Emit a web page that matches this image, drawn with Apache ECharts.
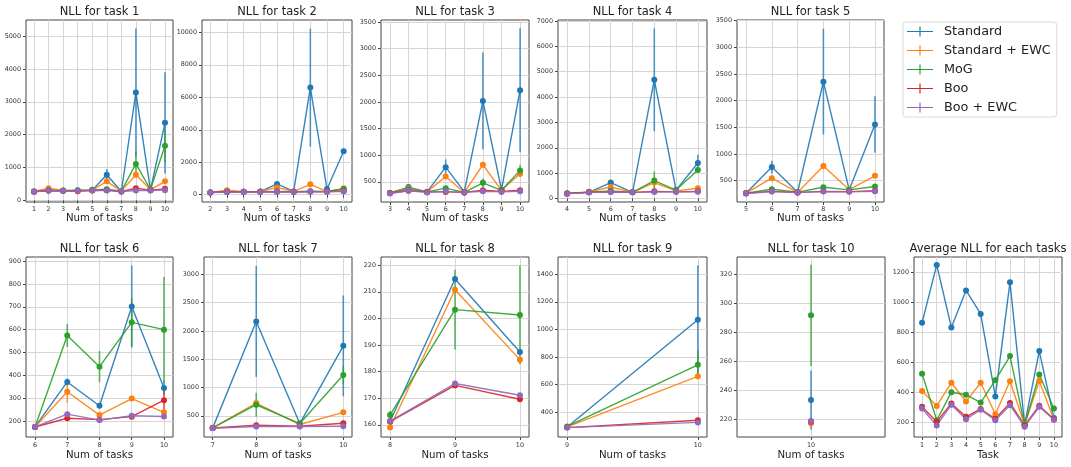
<!DOCTYPE html>
<html>
<head>
<meta charset="utf-8">
<script src="https://cdn.jsdelivr.net/npm/echarts@6/dist/echarts.min.js"></script>
<style>
    html, body { margin: 0; padding: 0; background: #fff; }
    #chart { width: 1071px; height: 467px; }
</style>
</head>
<body>
<div id="chart"></div>
<script>
var methods = ['Standard', 'Standard + EWC', 'MoG', 'Boo', 'Boo + EWC'];
var methodColors = ['#1f77b4', '#ff7f0e', '#2ca02c', '#d62728', '#9467bd'];

// x values (number of tasks seen) for each panel
var xTask1 = [1, 2, 3, 4, 5, 6, 7, 8, 9, 10];
var xTask2 = [2, 3, 4, 5, 6, 7, 8, 9, 10];
var xTask3 = [3, 4, 5, 6, 7, 8, 9, 10];
var xTask4 = [4, 5, 6, 7, 8, 9, 10];
var xTask5 = [5, 6, 7, 8, 9, 10];
var xTask6 = [6, 7, 8, 9, 10];
var xTask7 = [7, 8, 9, 10];
var xTask8 = [8, 9, 10];
var xTask9 = [9, 10];
var xTask10 = [10];
var xAverage = [1, 2, 3, 4, 5, 6, 7, 8, 9, 10];

// mean NLL, one row per method (same order as methods)
var nllTask1 = [
    [270, 300, 290, 300, 310, 780, 270, 3280, 310, 2360],
    [270, 370, 300, 290, 310, 580, 280, 780, 330, 580],
    [270, 300, 300, 310, 320, 340, 280, 1110, 330, 1660],
    [260, 300, 290, 280, 300, 310, 270, 370, 310, 350],
    [260, 300, 290, 290, 300, 300, 270, 300, 300, 310]
];
var nllTask2 = [
    [140, 200, 180, 190, 660, 200, 6600, 350, 2680],
    [130, 270, 180, 200, 450, 200, 640, 200, 390],
    [140, 180, 180, 180, 200, 180, 210, 200, 350],
    [140, 180, 180, 180, 190, 180, 190, 190, 230],
    [130, 170, 170, 170, 180, 170, 180, 180, 200]
];
var nllTask3 = [
    [290, 400, 310, 775, 310, 2020, 350, 2220],
    [290, 380, 310, 600, 300, 820, 340, 650],
    [290, 360, 310, 380, 300, 480, 340, 710],
    [290, 330, 310, 310, 300, 340, 320, 340],
    [280, 330, 300, 320, 300, 320, 310, 320]
];
var nllTask4 = [
    [200, 240, 625, 240, 4680, 330, 1400],
    [200, 260, 450, 240, 625, 300, 400],
    [200, 250, 300, 240, 705, 330, 1120],
    [200, 240, 260, 240, 280, 260, 280],
    [190, 230, 250, 240, 250, 260, 260]
];
var nllTask5 = [
    [264, 754, 283, 2355, 327, 1551],
    [265, 546, 280, 773, 330, 590],
    [265, 340, 285, 377, 327, 390],
    [265, 300, 280, 300, 295, 310],
    [260, 295, 275, 295, 290, 300]
];
var nllTask6 = [
    [174, 371, 267, 701, 345],
    [174, 328, 226, 298, 238],
    [174, 574, 438, 632, 600],
    [174, 212, 206, 219, 291],
    [174, 230, 204, 223, 220]
];
var nllTask7 = [
    [286, 2167, 362, 1735],
    [286, 724, 345, 561],
    [286, 695, 362, 1221],
    [286, 333, 315, 368],
    [280, 310, 310, 315]
];
var nllTask8 = [
    [161.2, 214.8, 187.4],
    [159.0, 210.8, 184.5],
    [163.7, 203.3, 201.3],
    [161.2, 174.8, 169.6],
    [161.4, 175.5, 171.1]
];
var nllTask9 = [
    [293, 1070],
    [293, 660],
    [297, 743],
    [288, 341],
    [288, 326]
];
var nllTask10 = [[233], [217], [291.5], [218], [218.5]];
var nllAverage = [
    [865, 1251, 834, 1081, 924, 374, 1136, 187, 676, 229],
    [410, 310, 465, 340, 465, 255, 475, 185, 477, 220],
    [525, 215, 402, 385, 333, 482, 643, 185, 520, 293],
    [305, 205, 327, 238, 290, 225, 330, 180, 312, 222],
    [293, 180, 318, 222, 285, 215, 315, 172, 305, 218]
];

// half length of the error bars
var errTask1 = [
    [20, 30, 20, 20, 30, 170, 20, 1950, 40, 1540],
    [10, 40, 10, 10, 20, 60, 10, 80, 20, 60],
    [10, 20, 10, 10, 20, 40, 10, 380, 30, 500],
    [10, 20, 10, 10, 10, 20, 10, 40, 10, 30],
    [10, 10, 10, 10, 10, 10, 10, 20, 10, 20]
];
var errTask2 = [
    [10, 30, 20, 20, 80, 20, 3630, 40, 150],
    [10, 40, 10, 20, 60, 20, 80, 20, 50],
    [10, 10, 10, 10, 20, 10, 20, 10, 60],
    [10, 10, 10, 10, 10, 10, 10, 10, 20],
    [10, 10, 10, 10, 10, 10, 10, 10, 10]
];
var errTask3 = [
    [10, 30, 10, 145, 10, 910, 20, 1165],
    [10, 30, 10, 40, 10, 50, 20, 60],
    [10, 20, 10, 30, 10, 80, 20, 110],
    [10, 10, 10, 10, 10, 20, 10, 20],
    [10, 10, 10, 10, 10, 10, 10, 10]
];
var errTask4 = [
    [10, 20, 60, 10, 2030, 20, 330],
    [10, 20, 40, 10, 80, 20, 60],
    [10, 20, 20, 10, 360, 20, 80],
    [10, 10, 10, 10, 20, 10, 20],
    [10, 10, 10, 10, 10, 10, 10]
];
var errTask5 = [
    [10, 120, 10, 990, 20, 530],
    [10, 30, 10, 60, 20, 40],
    [10, 20, 10, 20, 10, 20],
    [10, 10, 10, 10, 10, 10],
    [10, 10, 10, 10, 10, 10]
];
var errTask6 = [
    [3, 15, 8, 180, 30],
    [3, 48, 8, 10, 10],
    [3, 50, 68, 105, 230],
    [3, 5, 5, 5, 65],
    [3, 5, 5, 5, 5]
];
var errTask7 = [
    [10, 980, 20, 890],
    [10, 60, 10, 30],
    [10, 210, 10, 160],
    [10, 20, 10, 20],
    [10, 10, 10, 10]
];
var errTask8 = [
    [0.8, 1, 0.8],
    [0.5, 1, 0.8],
    [1.5, 15, 18.5],
    [0.5, 0.8, 0.5],
    [0.5, 0.8, 0.5]
];
var errTask9 = [
    [5, 395],
    [5, 20],
    [5, 105],
    [3, 10],
    [3, 5]
];
var errTask10 = [[20.4], [1], [35], [1], [1]];

// y tick labels
var yTicksTask1 = [0, 1000, 2000, 3000, 4000, 5000];
var yTicksTask2 = [0, 2000, 4000, 6000, 8000, 10000];
var yTicksTask3 = [500, 1000, 1500, 2000, 2500, 3000, 3500];
var yTicksTask4 = [0, 1000, 2000, 3000, 4000, 5000, 6000, 7000];
var yTicksTask5 = [500, 1000, 1500, 2000, 2500, 3000, 3500];
var yTicksTask6 = [200, 300, 400, 500, 600, 700, 800, 900];
var yTicksTask7 = [500, 1000, 1500, 2000, 2500, 3000];
var yTicksTask8 = [160, 170, 180, 190, 200, 210, 220];
var yTicksTask9 = [400, 600, 800, 1000, 1200, 1400];
var yTicksTask10 = [220, 240, 260, 280, 300, 320];
var yTicksAverage = [200, 400, 600, 800, 1000, 1200];

var panels = [
    {title: 'NLL for task 1', x: xTask1, mean: nllTask1, err: errTask1, yTicks: yTicksTask1, xr: [0.45, 10.55], yr: [-50, 5490], rect: [26, 20, 147, 182], xName: 'Num of tasks'},
    {title: 'NLL for task 2', x: xTask2, mean: nllTask2, err: errTask2, yTicks: yTicksTask2, xr: [1.5, 10.5], yr: [-450, 10760], rect: [202, 20, 150, 182], xName: 'Num of tasks'},
    {title: 'NLL for task 3', x: xTask3, mean: nllTask3, err: errTask3, yTicks: yTicksTask3, xr: [2.52, 10.48], yr: [120, 3540], rect: [381, 20, 148, 182], xName: 'Num of tasks'},
    {title: 'NLL for task 4', x: xTask4, mean: nllTask4, err: errTask4, yTicks: yTicksTask4, xr: [3.58, 10.42], yr: [-140, 7040], rect: [558, 20, 149, 182], xName: 'Num of tasks'},
    {title: 'NLL for task 5', x: xTask5, mean: nllTask5, err: errTask5, yTicks: yTicksTask5, xr: [4.65, 10.35], yr: [100, 3510], rect: [737, 20, 147, 182], xName: 'Num of tasks'},
    {title: 'NLL for task 6', x: xTask6, mean: nllTask6, err: errTask6, yTicks: yTicksTask6, xr: [5.72, 10.28], yr: [130, 918], rect: [26, 257, 147, 180], xName: 'Num of tasks'},
    {title: 'NLL for task 7', x: xTask7, mean: nllTask7, err: errTask7, yTicks: yTicksTask7, xr: [6.8, 10.2], yr: [125, 3305], rect: [204, 257, 148, 180], xName: 'Num of tasks'},
    {title: 'NLL for task 8', x: xTask8, mean: nllTask8, err: errTask8, yTicks: yTicksTask8, xr: [7.86, 10.14], yr: [155.4, 223.1], rect: [381, 257, 148, 180], xName: 'Num of tasks'},
    {title: 'NLL for task 9', x: xTask9, mean: nllTask9, err: errTask9, yTicks: yTicksTask9, xr: [8.93, 10.07], yr: [220, 1525], rect: [558, 257, 149, 180], xName: 'Num of tasks'},
    {title: 'NLL for task 10', x: xTask10, mean: nllTask10, err: errTask10, yTicks: yTicksTask10, xr: [9.45, 10.55], yr: [207.5, 331.8], rect: [737, 257, 148, 180], xName: 'Num of tasks'},
    {title: 'Average NLL for each tasks', x: xAverage, mean: nllAverage, err: null, yTicks: yTicksAverage, xr: [0.45, 10.55], yr: [103, 1304], rect: [914, 257, 148, 180], xName: 'Task'}
];

var FONT = 'DejaVu Sans';

function errorBar(color) {
    return function (params, api) {
        var top = api.coord([api.value(0), api.value(2)]);
        var bottom = api.coord([api.value(0), api.value(1)]);
        return {
            type: 'line',
            shape: {x1: top[0], y1: top[1], x2: bottom[0], y2: bottom[1]},
            style: {stroke: color, lineWidth: 1.6, opacity: 0.75}
        };
    };
}

function plainNumber(v) {
    return String(v);
}

var grids = [], xAxes = [], yAxes = [], series = [], texts = [];

panels.forEach(function (p, i) {
    var bottomRow = i >= 5;
    grids.push({
        left: p.rect[0], top: p.rect[1], width: p.rect[2], height: p.rect[3],
        show: true, borderColor: '#444', borderWidth: 1, backgroundColor: 'transparent'
    });
    xAxes.push({
        type: 'value', gridIndex: i, min: p.xr[0], max: p.xr[1],
        name: p.xName, nameLocation: 'middle', nameGap: bottomRow ? 13 : 11.5,
        nameTextStyle: {fontSize: 10.2, color: '#222', fontFamily: FONT},
        axisLine: {show: false},
        axisTick: {show: true, length: 3, lineStyle: {color: '#444'}, customValues: p.x},
        axisLabel: {fontSize: 6.4, color: '#333', margin: bottomRow ? 5 : 4, fontFamily: FONT, customValues: p.x, formatter: plainNumber},
        splitLine: {show: true, lineStyle: {color: '#d6d6d6', width: 1}}
    });
    yAxes.push({
        type: 'value', gridIndex: i, min: p.yr[0], max: p.yr[1],
        axisLine: {show: false},
        axisTick: {show: true, length: 3, lineStyle: {color: '#444'}, customValues: p.yTicks},
        axisLabel: {fontSize: 6.4, color: '#333', margin: 5, fontFamily: FONT, customValues: p.yTicks, formatter: plainNumber},
        splitLine: {show: true, lineStyle: {color: '#d6d6d6', width: 1}}
    });
    texts.push({
        type: 'text',
        x: p.rect[0] + p.rect[2] / 2,
        y: p.rect[1] - 8,
        style: {text: p.title, fill: '#222', font: '11.5px "' + FONT + '"', textAlign: 'center', textVerticalAlign: 'middle'}
    });

    methods.forEach(function (m, k) {
        var c = methodColors[k];
        if (p.err) {
            series.push({
                type: 'custom', name: m + ' error', xAxisIndex: i, yAxisIndex: i,
                renderItem: errorBar(c), silent: true,
                encode: {x: 0, y: [1, 2]},
                data: p.x.map(function (x, j) {
                    return [x, p.mean[k][j] - p.err[k][j], p.mean[k][j] + p.err[k][j]];
                })
            });
        }
        series.push({
            type: 'line', name: m, xAxisIndex: i, yAxisIndex: i,
            symbol: 'circle', symbolSize: 6, showSymbol: true,
            itemStyle: {color: c},
            lineStyle: {color: c, width: 1.4, opacity: 0.9},
            emphasis: {disabled: true},
            data: p.x.map(function (x, j) { return [x, p.mean[k][j]]; })
        });
    });
});

var myChart = echarts.init(document.getElementById('chart'));
myChart.setOption({
    animation: false,
    textStyle: {fontFamily: FONT},
    grid: grids,
    xAxis: xAxes,
    yAxis: yAxes,
    legend: {
        data: methods,
        orient: 'vertical',
        left: 903, top: 22,
        icon: 'path://M0,4.4H26V5.6H0Z M12.4,0H13.6V10H12.4Z',
        itemWidth: 26, itemHeight: 10, itemGap: 2,
        textStyle: {fontSize: 12.8, color: '#222', fontFamily: FONT, lineHeight: 17, padding: [0, 0, 0, 6]},
        backgroundColor: '#fff', borderColor: '#d8d8d8', borderWidth: 1, borderRadius: 3,
        padding: [1, 6, 1, 4]
    },
    graphic: texts,
    series: series
});
</script>
</body>
</html>
